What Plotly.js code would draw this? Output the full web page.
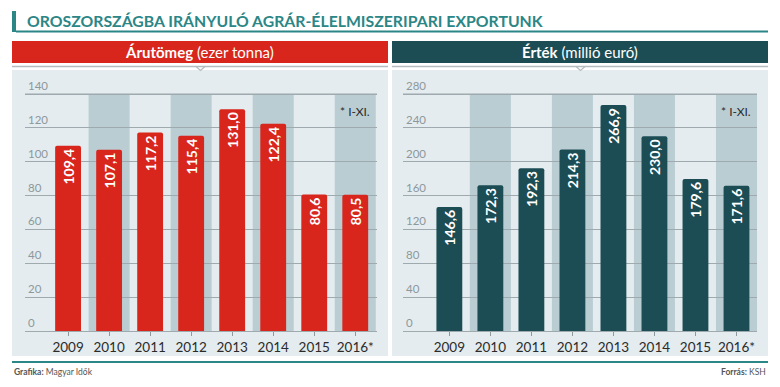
<!DOCTYPE html>
<html><head><meta charset="utf-8">
<script src="https://cdn.plot.ly/plotly-3.0.1.min.js"></script>
<style>html,body{margin:0;padding:0;background:#fff;}#chart{width:780px;height:387px;}</style>
</head><body><div id="chart"></div>
<script>
const years = ['2009','2010','2011','2012','2013','2014','2015','2016*'];
const tonnes = [109.4, 107.1, 117.2, 115.4, 131.0, 122.4, 80.6, 80.5];
const euros = [146.6, 172.3, 192.3, 214.3, 266.9, 230.0, 179.6, 171.6];
const leftTicks = [0, 20, 40, 60, 80, 100, 120, 140];
const rightTicks = [0, 40, 80, 120, 160, 200, 240, 280];

const W = 780, H = 387;
const px = v => v / W;
const py = v => 1 - v / H;
const FONT = 'Lato, "Open Sans", sans-serif';
const RED = '#d8261d', TEAL = '#1c4d55', ACCENT = '#2b8686';
const PANEL = '#e4ecef', BAND = '#b9cdd3', GRID = '#9eaaae';
const fmt = v => v.toFixed(1).replace('.', ',');
const leftTop = leftTicks[leftTicks.length - 1];
const rightTop = rightTicks[rightTicks.length - 1];

function barTrace(vals, color, xa, ya) {
  return {
    type: 'bar', x: years, y: vals, xaxis: xa, yaxis: ya,
    marker: {color: color, cornerradius: 2},
    width: 0.63,
    text: vals.map(fmt), textposition: 'inside', insidetextanchor: 'end',
    textangle: -90, constraintext: 'none',
    textfont: {family: FONT, color: '#ffffff', size: 14, weight: 700},
    hoverinfo: 'skip', cliponaxis: false
  };
}

const data = [barTrace(tonnes, RED, 'x', 'y'), barTrace(euros, TEAL, 'x2', 'y2')];

function xax(domain, range) {
  return {
    domain: domain, range: range, type: 'category', showgrid: false, zeroline: false,
    showline: false, ticks: 'outside', ticklen: 4, tickcolor: '#8d999d', tickwidth: 1,
    tickfont: {family: FONT, size: 13.5, color: '#2b2b2b'}, fixedrange: true
  };
}
function yax(top, extra, ticks, anchor) {
  const pxPerUnit = (331 - 94) / top;
  return {
    domain: [py(331), py(94 - extra * pxPerUnit)], range: [0, top + extra], anchor: anchor,
    tickvals: ticks, ticktext: ticks.map(String), ticks: '',
    ticklabelposition: 'inside top', ticklabeloverflow: 'allow',
    showgrid: true, gridcolor: GRID, gridwidth: 1,
    zeroline: true, zerolinecolor: GRID, zerolinewidth: 1, showline: false,
    tickfont: {family: FONT, size: 11.5, color: '#8d989c'}, fixedrange: true
  };
}

const shapes = [
  {type: 'rect', xref: 'paper', yref: 'paper', x0: px(12), x1: px(16), y0: py(32), y1: py(11), fillcolor: ACCENT, line: {width: 0}, layer: 'below'},
  {type: 'line', xref: 'paper', yref: 'paper', x0: px(16), x1: px(768), y0: py(31.5), y1: py(31.5), line: {color: ACCENT, width: 2}},
  {type: 'rect', xref: 'paper', yref: 'paper', x0: px(12), x1: px(388), y0: py(63), y1: py(41), fillcolor: RED, line: {width: 0}, layer: 'below'},
  {type: 'rect', xref: 'paper', yref: 'paper', x0: px(392), x1: px(768), y0: py(63), y1: py(41), fillcolor: TEAL, line: {width: 0}, layer: 'below'},
  {type: 'line', xref: 'paper', yref: 'paper', x0: px(12), x1: px(388), y0: py(66.5), y1: py(66.5), line: {color: '#b3bcbf', width: 1.5}},
  {type: 'line', xref: 'paper', yref: 'paper', x0: px(392), x1: px(768), y0: py(66.5), y1: py(66.5), line: {color: '#b3bcbf', width: 1.5}},
  {type: 'path', xref: 'paper', yref: 'paper', path: `M ${px(196)} ${py(66.5)} L ${px(200.5)} ${py(70.5)} L ${px(205)} ${py(66.5)}`, line: {color: '#b3bcbf', width: 1.2}},
  {type: 'path', xref: 'paper', yref: 'paper', path: `M ${px(576)} ${py(66.5)} L ${px(580.5)} ${py(70.5)} L ${px(585)} ${py(66.5)}`, line: {color: '#b3bcbf', width: 1.2}},
  {type: 'rect', xref: 'paper', yref: 'paper', x0: px(12), x1: px(388), y0: py(356), y1: py(70), fillcolor: PANEL, line: {width: 0}, layer: 'below'},
  {type: 'rect', xref: 'paper', yref: 'paper', x0: px(392), x1: px(768), y0: py(356), y1: py(70), fillcolor: PANEL, line: {width: 0}, layer: 'below'},
  {type: 'line', xref: 'paper', yref: 'paper', x0: px(12), x1: px(768), y0: py(362), y1: py(362), line: {color: ACCENT, width: 2}}
];
years.forEach((y, i) => {
  if (i % 2 === 1) {
    shapes.push({type: 'rect', xref: 'x', yref: 'y', x0: i - 0.5, x1: i + 0.5, y0: 0, y1: leftTop, fillcolor: BAND, line: {width: 0}, layer: 'below'});
    shapes.push({type: 'rect', xref: 'x2', yref: 'y2', x0: i - 0.5, x1: i + 0.5, y0: 0, y1: rightTop, fillcolor: BAND, line: {width: 0}, layer: 'below'});
  }
});
// top gridline at the highest tick value, drawn after the bands
shapes.push({type: 'line', xref: 'x domain', yref: 'y', x0: 0, x1: 1, y0: leftTop, y1: leftTop, line: {color: GRID, width: 1}, layer: 'below'});
shapes.push({type: 'line', xref: 'x2 domain', yref: 'y2', x0: 0, x1: 1, y0: rightTop, y1: rightTop, line: {color: GRID, width: 1}, layer: 'below'});

const annotations = [
  {xref: 'paper', yref: 'paper', x: px(25), y: py(20), xanchor: 'left', yanchor: 'middle', showarrow: false,
   text: '<b>OROSZORSZÁGBA IRÁNYULÓ AGRÁR-ÉLELMISZERIPARI EXPORTUNK</b>',
   font: {family: FONT, size: 15.8, color: ACCENT}},
  {xref: 'paper', yref: 'paper', x: px(200), y: py(52), xanchor: 'center', yanchor: 'middle', showarrow: false,
   text: '<b>Árutömeg</b> (ezer tonna)', font: {family: FONT, size: 15, color: '#ffffff'}},
  {xref: 'paper', yref: 'paper', x: px(580), y: py(52), xanchor: 'center', yanchor: 'middle', showarrow: false,
   text: '<b>Érték</b> (millió euró)', font: {family: FONT, size: 15, color: '#ffffff'}},
  {xref: 'x', yref: 'paper', x: 7, y: py(111), xanchor: 'center', yanchor: 'middle', showarrow: false,
   text: '* I-XI.', font: {family: FONT, size: 12, color: '#2b2b2b'}},
  {xref: 'x2', yref: 'paper', x: 7, y: py(111), xanchor: 'center', yanchor: 'middle', showarrow: false,
   text: '* I-XI.', font: {family: FONT, size: 12, color: '#2b2b2b'}},
  {xref: 'paper', yref: 'paper', x: px(12), y: py(372), xanchor: 'left', yanchor: 'middle', showarrow: false,
   text: '<b>Grafika:</b> Magyar Idők', font: {family: FONT, size: 8.5, color: '#555'}},
  {xref: 'paper', yref: 'paper', x: px(768), y: py(372), xanchor: 'right', yanchor: 'middle', showarrow: false,
   text: '<b>Forrás:</b> KSH', font: {family: FONT, size: 8.5, color: '#555'}}
];

const layout = {
  width: W, height: H, margin: {l: 0, r: 0, t: 0, b: 0},
  paper_bgcolor: '#ffffff', plot_bgcolor: 'rgba(0,0,0,0)',
  showlegend: false, bargap: 0.37,
  xaxis: xax([px(25), px(377)], [-1.05, 7.53]),
  yaxis: yax(leftTop, 10, leftTicks, 'x'),
  xaxis2: xax([px(403), px(757)], [-1.13, 7.5]),
  yaxis2: yax(rightTop, 20, rightTicks, 'x2'),
  shapes: shapes, annotations: annotations,
  font: {family: FONT}
};
layout.xaxis.anchor = 'y';
layout.xaxis2.anchor = 'y2';

Plotly.newPlot('chart', data, layout, {staticPlot: true, displayModeBar: false});
</script></body></html>
